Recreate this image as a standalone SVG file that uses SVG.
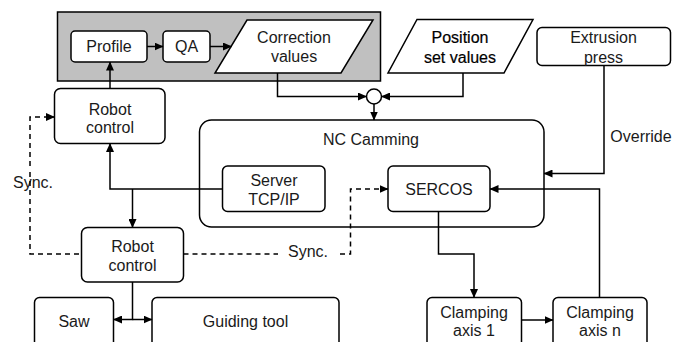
<svg xmlns="http://www.w3.org/2000/svg" width="674" height="342" viewBox="0 0 674 342">
<defs>
<style>
.box{fill:#fff;stroke:#000;stroke-width:1.5}
.ln{fill:none;stroke:#000;stroke-width:1.5}
.ds{fill:none;stroke:#000;stroke-width:1.5;stroke-dasharray:5,4}
text{font-family:"Liberation Sans",Arial,sans-serif;font-size:16px;fill:#1a1a1a;text-anchor:middle}
.bold{fill:#000;stroke:#000;stroke-width:0.2}
</style>
<marker id="ah" markerWidth="9" markerHeight="8" refX="8.5" refY="4" orient="auto" markerUnits="userSpaceOnUse">
<path d="M0,0 L9,4 L0,8 Z" fill="#000"/>
</marker>
</defs>
<rect width="674" height="342" fill="#fff"/>
<g id="group-bg">
<rect x="57.5" y="12" width="323" height="69" fill="#c0c0c0" stroke="#000" stroke-width="1.5"/>
</g>
<g id="profile"><rect class="box" x="71" y="31" width="76" height="31" rx="4"/><text x="109" y="52">Profile</text></g>
<g id="qa"><rect class="box" x="163" y="31" width="47" height="31" rx="4"/><text x="186.5" y="52">QA</text></g>
<g id="correction"><polygon class="box" points="247,20 373,20 341,73 215,73"/><text x="294" y="43">Correction</text><text x="294" y="62">values</text></g>
<g id="position"><polygon class="box" points="417,19.5 533,19.5 504,73 388,73"/><text class="bold" x="460" y="43">Position</text><text class="bold" x="460" y="63">set values</text></g>
<g id="extrusion"><rect class="box" x="537" y="27.5" width="133.5" height="38" rx="5"/><text x="603.5" y="43">Extrusion</text><text x="603.5" y="63">press</text></g>
<g id="sum"><circle class="box" cx="374" cy="96.5" r="7.5"/></g>
<g id="robot1"><rect class="box" x="54.5" y="88.5" width="110.5" height="55" rx="6"/><text x="110" y="115">Robot</text><text x="110" y="133">control</text></g>
<g id="nc"><rect class="box" x="199.5" y="120" width="344.5" height="107" rx="12"/><text x="371" y="144.5">NC Camming</text></g>
<g id="server"><rect class="box" x="222.5" y="166" width="102.5" height="45.5" rx="5"/><text x="274" y="186">Server</text><text x="274" y="205">TCP/IP</text></g>
<g id="sercos"><rect class="box" x="388" y="166" width="102" height="45.5" rx="5"/><text x="439" y="195">SERCOS</text></g>
<g id="robot2"><rect class="box" x="81.5" y="227.5" width="102" height="54.5" rx="6"/><text x="132.5" y="252">Robot</text><text x="132.5" y="271">control</text></g>
<g id="saw"><rect class="box" x="34.5" y="297.5" width="79" height="50" rx="5"/><text x="74" y="326.5">Saw</text></g>
<g id="guiding"><rect class="box" x="152" y="297.5" width="187" height="50" rx="5"/><text x="245.5" y="326.5">Guiding tool</text></g>
<g id="clamp1"><rect class="box" x="427" y="297.5" width="94.5" height="50" rx="5"/><text x="474" y="318">Clamping</text><text x="474" y="336">axis 1</text></g>
<g id="clampn"><rect class="box" x="553" y="297.5" width="94" height="50" rx="5"/><text x="600" y="318">Clamping</text><text x="600" y="336">axis n</text></g>
<g id="labels">
<text x="33" y="188">Sync.</text>
<text x="308" y="257">Sync.</text>
<text x="641" y="142">Override</text>
</g>
<g id="connectors">
<path class="ln" d="M147,46.5 H163" marker-end="url(#ah)"/>
<path class="ln" d="M210,46.5 H231.5" marker-end="url(#ah)"/>
<path class="ln" d="M110,88.5 V62" marker-end="url(#ah)"/>
<path class="ln" d="M277.5,73 V96.5 H366.5" marker-end="url(#ah)"/>
<path class="ln" d="M463,73 V96.5 H381.5" marker-end="url(#ah)"/>
<path class="ln" d="M374,104 V120" marker-end="url(#ah)"/>
<path class="ln" d="M604,65.5 V173.5 H544" marker-end="url(#ah)"/>
<path class="ln" d="M222.5,189 H110 V143.5" marker-end="url(#ah)"/>
<path class="ln" d="M132.5,189 V227.5" marker-end="url(#ah)"/>
<path class="ln" d="M132.5,282 V319.5 H113.5" marker-end="url(#ah)"/>
<path class="ln" d="M132.5,319.5 H152" marker-end="url(#ah)"/>
<path class="ln" d="M438.5,211.5 V254 H474 V297.5" marker-end="url(#ah)"/>
<path class="ln" d="M521.5,320 H553" marker-end="url(#ah)"/>
<path class="ln" d="M599.5,297.5 V189 H490" marker-end="url(#ah)"/>
<path class="ds" d="M30,172 V254 H81.5"/>
<path class="ds" d="M30,166 V117 H54.5" marker-end="url(#ah)"/>
<path class="ds" d="M183.5,254 H278"/>
<path class="ds" d="M340,254 H350.5 V189 H388" marker-end="url(#ah)"/>
</g>
</svg>
